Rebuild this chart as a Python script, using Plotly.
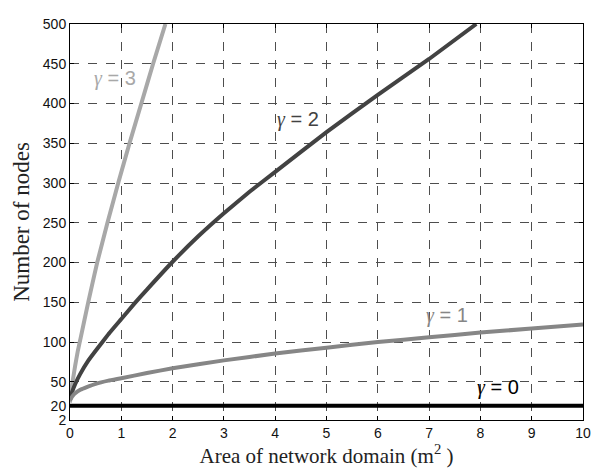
import plotly.graph_objects as go

# ---- data ----
area_g3 = [0, 0.01, 0.03, 0.06, 0.1, 0.15, 0.21, 0.355, 0.53, 0.73, 0.94, 1.16, 1.39, 1.62, 1.86]
nodes_g3 = [24, 32, 42, 54, 70, 88, 106, 150, 200, 250, 300, 350, 400, 450, 500]

area_g2 = [0, 0.02, 0.05, 0.1, 0.2, 0.35, 0.5, 0.75, 1, 1.25, 1.5, 2, 2.5, 3, 3.5, 4, 5, 6, 7, 7.92]
nodes_g2 = [27, 33, 39, 47, 60, 76, 89, 110, 129, 148, 166, 201, 233, 262, 289, 314, 364, 411, 456, 500]

area_g1 = [0, 0.05, 0.1, 0.2, 0.35, 0.5, 0.75, 1, 1.5, 2, 3, 4, 5, 6, 7, 8, 9, 10]
nodes_g1 = [27, 32, 35.5, 40, 44, 47.5, 51.5, 54.5, 61, 67, 77, 85.5, 93, 100, 106, 112, 117, 122]

area_g0 = [0, 10]
nodes_g0 = [20, 20]

x_ticks = [0, 1, 2, 3, 4, 5, 6, 7, 8, 9, 10]
y_ticks = [2, 20, 50, 100, 150, 200, 250, 300, 350, 400, 450, 500]

gamma_values = ["3", "2", "1", "0"]
label_pos = [(0.87, 432), (4.45, 380), (7.35, 133), (8.35, 43)]
colors = ["#a8a8a8", "#424242", "#868686", "#000000"]

fig = go.Figure()
series = [(area_g3, nodes_g3), (area_g2, nodes_g2), (area_g1, nodes_g1), (area_g0, nodes_g0)]
for (xs, ys), c in zip(series, colors):
    fig.add_trace(go.Scatter(x=xs, y=ys, mode="lines",
                             line=dict(color=c, width=4, shape="spline", smoothing=0.3),
                             showlegend=False, hoverinfo="skip"))

for g, (ax, ay), c in zip(gamma_values, label_pos, colors):
    fig.add_annotation(x=ax, y=ay, xref="x", yref="y", showarrow=False,
                       text="<span style='font-family:Liberation Serif;font-style:italic'>γ</span> = " + g,
                       font=dict(family="Liberation Sans, Arial", size=20, color=c))

axis_common = dict(showline=True, linecolor="black", linewidth=1, mirror="ticks",
                   ticks="inside", ticklen=4, tickcolor="black",
                   showgrid=True, gridcolor="#4e4e4e", griddash="dash", gridwidth=1,
                   zeroline=False,
                   tickfont=dict(family="Liberation Sans, Arial", size=14, color="#111111"))

fig.update_xaxes(range=[0, 10], tickvals=x_ticks, ticktext=[str(v) for v in x_ticks],
                 title=dict(text="Area of network domain (m<sup>2</sup> )",
                            font=dict(family="Liberation Serif, Times New Roman", size=21, color="#222222"),
                            standoff=2),
                 **axis_common)
fig.update_yaxes(range=[2, 500], tickvals=y_ticks, ticktext=[str(v) for v in y_ticks],
                 title=dict(text="Number of nodes",
                            font=dict(family="Liberation Serif, Times New Roman", size=23, color="#222222"),
                            standoff=6),
                 **axis_common)

# page body has an 8px margin, so the figure is shifted by 8px; compensate
fig.update_layout(width=591, height=461,
                  margin=dict(l=62, r=8, t=9, b=49),
                  plot_bgcolor="white", paper_bgcolor="white")

fig.write_html("out.html")
